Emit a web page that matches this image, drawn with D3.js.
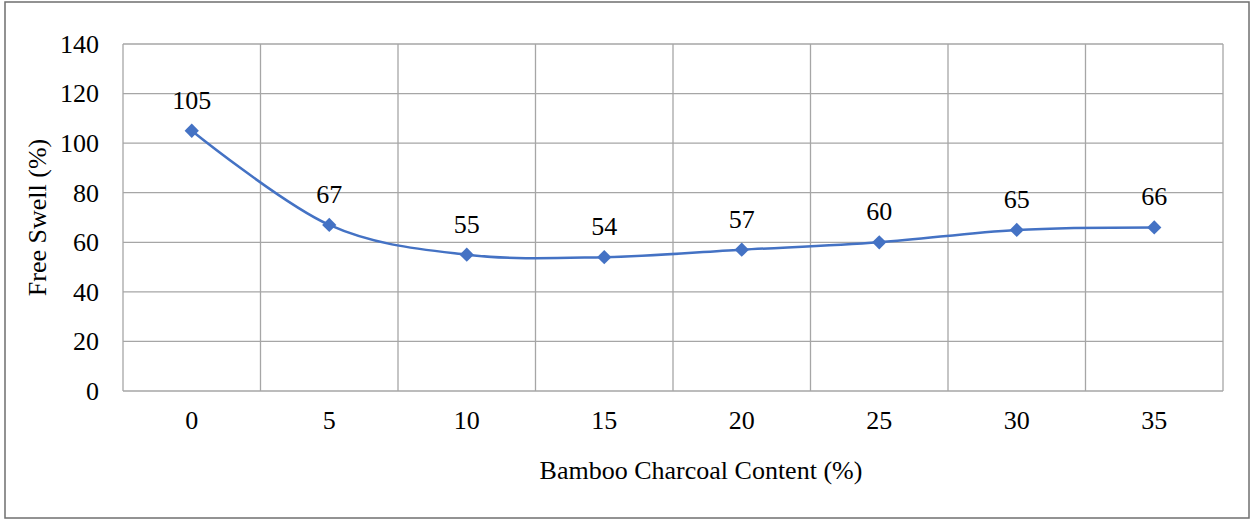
<!DOCTYPE html>
<html>
<head>
<meta charset="utf-8">
<script src="https://cdn.jsdelivr.net/npm/d3@7/dist/d3.min.js"></script>
<style>
  html, body { margin: 0; padding: 0; background: #fff; }
  svg { display: block; }
  text { font-family: "Liberation Serif", "Times New Roman", Times, serif; fill: #000; }
</style>
</head>
<body>
<svg id="chart" width="1252" height="520"></svg>
<script>
// Bamboo charcoal content (%) on the x axis
const categories = ["0", "5", "10", "15", "20", "25", "30", "35"];
// Free swell (%) per mix
const freeSwell = [105, 67, 55, 54, 57, 60, 65, 66];
// Y axis ticks
const yTicks = [0, 20, 40, 60, 80, 100, 120, 140];

const FONT = "'Liberation Serif', 'Times New Roman', Times, serif";
const FS = 26;

const svg = d3.select("#chart");
const W = 1252, H = 520;
const plot = { left: 123, top: 44, right: 1223, bottom: 391 };

// Outer chart frame
svg.append("rect")
  .attr("x", 5).attr("y", 2)
  .attr("width", W - 8).attr("height", H - 4)
  .attr("fill", "#fff")
  .attr("stroke", "#6f6f6f")
  .attr("stroke-width", 1.5);

const x = d3.scaleBand().domain(categories).range([plot.left, plot.right]).padding(0);
const y = d3.scaleLinear().domain([0, 140]).range([plot.bottom, plot.top]);

const grid = svg.append("g").attr("stroke", "#a6a6a6").attr("stroke-width", 1.3);

// Horizontal gridlines
grid.selectAll("line.h").data(yTicks).join("line")
  .attr("class", "h")
  .attr("x1", plot.left).attr("x2", plot.right)
  .attr("y1", d => y(d)).attr("y2", d => y(d));

// Vertical gridlines at category boundaries
const bounds = categories.map(c => x(c)).concat([plot.right]);
grid.selectAll("line.v").data(bounds).join("line")
  .attr("class", "v")
  .attr("y1", plot.top).attr("y2", plot.bottom)
  .attr("x1", d => d).attr("x2", d => d);

// Y axis tick labels
const yAxis = d3.axisLeft(y).tickValues(yTicks).tickSize(0).tickPadding(0);
const gy = svg.append("g").attr("transform", `translate(${plot.left - 24},0)`).call(yAxis);
gy.attr("font-family", FONT).attr("font-size", FS);
gy.select(".domain").remove();
gy.selectAll("text").attr("fill", "#000");

// X axis tick labels
const xAxis = d3.axisBottom(x).tickSize(0).tickPadding(0);
const gx = svg.append("g").attr("transform", `translate(0,${plot.bottom + 20})`).call(xAxis);
gx.attr("font-family", FONT).attr("font-size", FS);
gx.select(".domain").remove();
gx.selectAll("text").attr("fill", "#000");

// Axis titles
svg.append("text")
  .attr("x", 701)
  .attr("y", 479)
  .attr("text-anchor", "middle")
  .attr("font-family", FONT)
  .attr("font-size", FS)
  .text("Bamboo Charcoal Content (%)");

svg.append("text")
  .attr("transform", `translate(46,${(plot.top + plot.bottom) / 2}) rotate(-90)`)
  .attr("text-anchor", "middle")
  .attr("font-family", FONT)
  .attr("font-size", FS)
  .text("Free Swell (%)");

// Smoothed series line
const cx = (d, i) => x(categories[i]) + x.bandwidth() / 2;
const line = d3.line()
  .x(cx)
  .y(d => y(d))
  .curve(d3.curveCardinal.tension(0));

svg.append("path")
  .datum(freeSwell)
  .attr("fill", "none")
  .attr("stroke", "#4472c4")
  .attr("stroke-width", 2.5)
  .attr("d", line);

// Diamond markers
const diamond = d3.symbol().type(d3.symbolDiamond2).size(130);
svg.selectAll("path.marker").data(freeSwell).join("path")
  .attr("class", "marker")
  .attr("transform", (d, i) => `translate(${cx(d, i)},${y(d)})`)
  .attr("d", diamond)
  .attr("fill", "#4472c4");

// Value labels
svg.selectAll("text.val").data(freeSwell).join("text")
  .attr("class", "val")
  .attr("x", (d, i) => cx(d, i))
  .attr("y", d => y(d) - 22)
  .attr("text-anchor", "middle")
  .attr("font-family", FONT)
  .attr("font-size", FS)
  .text(d => d);
</script>
</body>
</html>
